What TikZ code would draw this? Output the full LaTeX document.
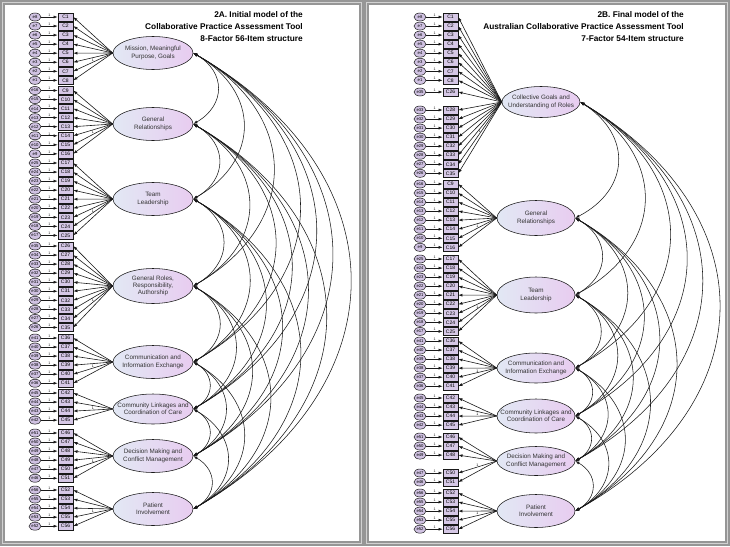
\documentclass[tikz,border=0pt]{standalone}
\usepackage{fontspec}
\setmainfont{Liberation Sans}
\usetikzlibrary{shapes.geometric, arrows.meta}
\definecolor{itemfill}{RGB}{214,200,230}
\definecolor{errfill}{RGB}{208,194,226}
\definecolor{facleft}{RGB}{226,232,244}
\definecolor{facright}{RGB}{232,204,240}
\definecolor{framegray}{RGB}{150,150,150}
\definecolor{framelight}{RGB}{210,210,210}
\definecolor{linedark}{RGB}{25,25,25}
\tikzset{
  % Observed item (C box)
  item/.style={
    rectangle, draw=linedark, fill=itemfill, line width=0.5pt,
    minimum width=15pt, minimum height=8pt, inner sep=0pt,
    font=\fontsize{5}{5}\selectfont
  },
  % Error term
  errterm/.style={
    ellipse, draw=linedark, fill=errfill, line width=0.5pt,
    minimum width=12pt, minimum height=8pt, inner sep=0pt,
    font=\fontsize{4.2}{4.2}\selectfont
  },
  % Latent factor
  factor/.style={
    ellipse, draw=linedark, left color=facleft, right color=facright,
    line width=0.55pt, minimum width=80pt, minimum height=33pt,
    inner xsep=-8pt, inner ysep=-2pt, align=center,
    font=\fontsize{6.3}{7.3}\selectfont, text=black!80
  },
  % Regression / loading arrow
  load/.style={
    -{Latex[length=4.2pt,width=3pt]}, line width=0.6pt, color=linedark
  },
  % Covariance arc
  cov/.style={
    {Latex[length=4.2pt,width=3pt]}-{Latex[length=4.2pt,width=3pt]},
    line width=0.55pt, color=linedark, bend left=60, looseness=1.36
  },
  % Fixed parameter label
  one/.style={
    font=\fontsize{3.6}{3.6}\selectfont, inner sep=0.4pt, above
  },
  % Panel title
  paneltitle/.style={
    font=\fontsize{8.3}{12}\selectfont\bfseries, align=right,
    anchor=north east, inner sep=0pt
  },
  % Panel frame
  panelframe/.style={draw=framegray, line width=4.5pt},
  panelinner/.style={draw=framelight, line width=1pt},
}
\begin{document}
\begin{tikzpicture}[x=1pt, y=-1pt]
  \useasboundingbox (0,0) rectangle (730,546);

  % frames
  \draw[panelframe] (2.5,2.5) rectangle (361.5,543.5);
  \draw[panelinner] (2.5,2.5) rectangle (361.5,543.5);
  \draw[panelframe] (366.5,2.5) rectangle (727.5,543.5);
  \draw[panelinner] (366.5,2.5) rectangle (727.5,543.5);

  % ---------------- 2A ----------------
  \node[paneltitle] (ltitle) at (303,11)
    {2A. Initial model of the\\Collaborative Practice Assessment Tool\\8-Factor 56-Item structure};

  \node[factor] (lF1) at (153,53)  {Mission, Meaningful\\Purpose, Goals};
  \node[factor] (lF2) at (153,124) {General\\Relationships};
  \node[factor] (lF3) at (153,199) {Team\\Leadership};
  \node[factor, minimum height=35pt] (lF4) at (153,286) {General Roles,\\Responsibility,\\Authorship};
  \node[factor] (lF5) at (153,362) {Communication and\\Information Exchange};
  \node[factor, minimum height=30pt] (lF6) at (153,409) {Community Linkages and\\Coordination of Care};
  \node[factor] (lF7) at (153,456) {Decision Making and\\Conflict Management};
  \node[factor] (lF8) at (153,509) {Patient\\Involvement};

  \foreach \first/\last/\yo/\off/\f in {1/8/17/9/1, 9/16/90.5/25/2, 17/25/163/42/3,
      26/35/246/61/4, 36/41/338/77/5, 42/45/393/87/6, 46/51/433/97/7, 52/56/490/108/8}{
    \foreach \c in {\first,...,\last}{
      \pgfmathsetmacro\ypos{\yo+9.05*(\c-\first)}
      \pgfmathtruncatemacro\e{\off-\c}
      \node[item] (lC\c) at (65.5,\ypos) {C\c};
      \node[errterm] (le\e) at (35,\ypos) {e\e};
      \draw[load] (le\e) -- node[one] {1} (lC\c);
      \draw[load] (lF\f.west) -- (lC\c.east);
    }
  }
  \foreach \c/\f in {7/1, 15/2, 24/3, 34/4, 40/5, 44/6, 50/7, 55/8}
    \path (lF\f.west) -- node[one, pos=0.5] {1} (lC\c.east);

  \foreach \i in {1,...,7}{
    \pgfmathtruncatemacro\nxt{\i+1}
    \foreach \j in {\nxt,...,8}
      \draw[cov] (lF\i.east) to (lF\j.east);
  }

  % ---------------- 2B ----------------
  \node[paneltitle] (rtitle) at (684,11)
    {2B. Final model of the\\Australian Collaborative Practice Assessment Tool\\7-Factor 54-Item structure};

  \node[factor, minimum width=78pt, minimum height=31pt] (rF1) at (541,102) {Collective Goals and\\Understanding of Roles};
  \node[factor, minimum width=78pt, minimum height=35pt] (rF2) at (536,218) {General\\Relationships};
  \node[factor, minimum width=78pt, minimum height=36pt] (rF3) at (536,295) {Team\\Leadership};
  \node[factor, minimum width=78pt, minimum height=30pt] (rF4) at (536,368) {Communication and\\Information Exchange};
  \node[factor, minimum width=78pt, minimum height=34pt] (rF5) at (536,416) {Community Linkages and\\Coordination of Care};
  \node[factor, minimum width=78pt, minimum height=29pt] (rF6) at (536,461) {Decision Making and\\Conflict Management};
  \node[factor, minimum width=78pt, minimum height=33pt] (rF7) at (536,511) {Patient\\Involvement};

  \foreach \first/\last/\yo/\off/\f in {1/8/17/9/1, 26/26/92/61/1, 28/35/110/61/1,
      9/16/184/25/2, 17/25/259/42/3, 36/41/341/77/4, 42/45/398/87/5,
      46/48/437/97/6, 50/51/473/97/6, 52/56/493/108/7}{
    \foreach \c in {\first,...,\last}{
      \pgfmathsetmacro\ypos{\yo+9.05*(\c-\first)}
      \pgfmathtruncatemacro\e{\off-\c}
      \node[item] (rC\c) at (450.5,\ypos) {C\c};
      \node[errterm] (re\e) at (420,\ypos) {e\e};
      \draw[load] (re\e) -- node[one] {1} (rC\c);
      \draw[load] (rF\f.west) -- (rC\c.east);
    }
  }
  \foreach \c/\f in {34/1, 15/2, 24/3, 40/4, 44/5, 50/6, 55/7}
    \path (rF\f.west) -- node[one, pos=0.5] {1} (rC\c.east);

  \foreach \i in {1,...,6}{
    \pgfmathtruncatemacro\nxt{\i+1}
    \foreach \j in {\nxt,...,7}
      \draw[cov] (rF\i.east) to (rF\j.east);
  }
\end{tikzpicture}
\end{document}
